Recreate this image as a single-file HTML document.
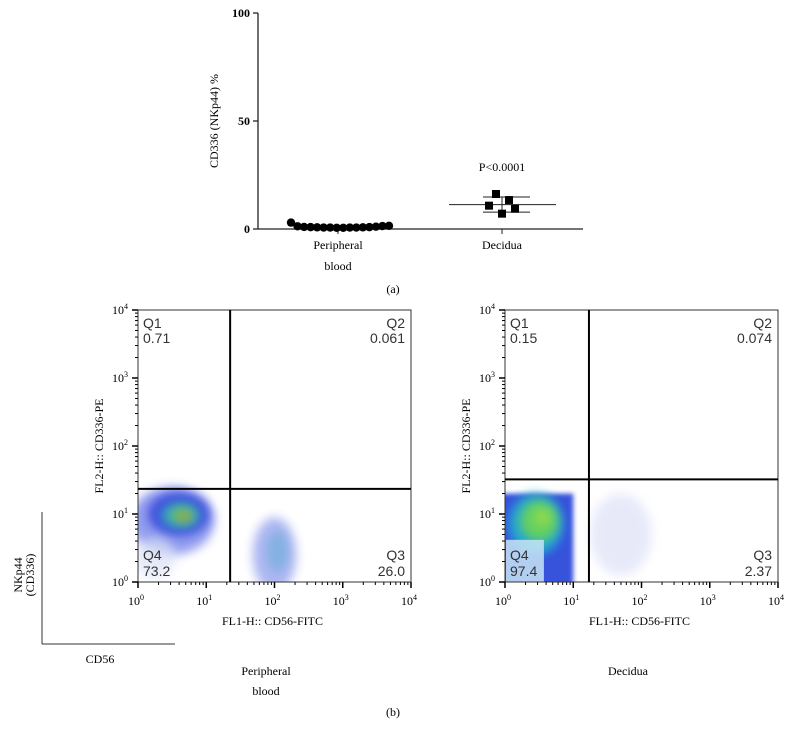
<!DOCTYPE html>
<html><head><meta charset="utf-8"><style>
body{margin:0;background:#fff;width:790px;height:739px;overflow:hidden}
svg text{font-family:"Liberation Serif",serif}
.q{font-family:"Liberation Sans",sans-serif;font-size:14px;fill:#333}
</style></head><body>
<svg id="fig" width="790" height="739" xmlns="http://www.w3.org/2000/svg">
<defs>
<filter id="blur" x="-50%" y="-50%" width="200%" height="200%"><feGaussianBlur stdDeviation="5"/></filter>
<filter id="blur2" x="-50%" y="-50%" width="200%" height="200%"><feGaussianBlur stdDeviation="2.5"/></filter>
<clipPath id="c1"><rect x="138" y="310" width="273" height="272"/></clipPath>
<clipPath id="c2"><rect x="505" y="310" width="275" height="272"/></clipPath>
</defs>
<g id="top"></g>
<g id="p1"></g>
<g id="p2"></g>
<g>
<line x1="42" y1="512" x2="42" y2="644" stroke="#333" stroke-width="1"/>
<line x1="42" y1="644" x2="175" y2="644" stroke="#333" stroke-width="1"/>
<text x="100" y="663" font-size="12" text-anchor="middle">CD56</text>
<text transform="translate(22,575) rotate(-90)" font-size="12" text-anchor="middle"><tspan x="0" dy="0">NKp44</tspan><tspan x="0" dy="12">(CD336)</tspan></text>
</g>
<text x="266" y="675" font-size="12" text-anchor="middle">Peripheral</text>
<text x="266" y="695" font-size="12" text-anchor="middle">blood</text>
<text x="628" y="675" font-size="12" text-anchor="middle">Decidua</text>
<text x="393" y="293" font-size="12" text-anchor="middle">(a)</text>
<text x="393" y="716" font-size="12" text-anchor="middle">(b)</text>
</svg>
<script>
const NS="http://www.w3.org/2000/svg";
// ---- top chart data ----
const categories=["Peripheral","Decidua"];
const yTicks=[0,50,100];
const pbValues=[2.5,0.8,0.5,0.4,0.3,0.2,0.2,0.1,0.1,0.2,0.2,0.3,0.4,0.6,0.9,1.0];
const decValues=[10.8,16.2,7.1,13.4,9.4];
const decOffsets=[-13,-6,0,7,13];
const decMean=[11.3];
const decSD=[3.5];
const pValueText=["P<0.0001"];
// ---- flow data ----
const decadeTicks=[0,1,2,3,4];
const flowGates=[{gx:1.35,gy:1.37},{gx:1.23,gy:1.51}];
const quadLabels=[["Q1","0.71","Q2","0.061","Q3","26.0","Q4","73.2"],["Q1","0.15","Q2","0.074","Q3","2.37","Q4","97.4"]];
// blobs: [logx, logy, rxDec, ryDec, color, opacity]
const blobs1=[[0.5,0.9,0.62,0.5,"#3a50e0",0.55],[0.6,1.0,0.45,0.32,"#1a2ad8",0.7],[0.62,0.98,0.3,0.2,"#30b8c0",0.75],[0.65,0.98,0.18,0.12,"#80d040",0.75],[0.68,0.95,0.07,0.06,"#e06a30",0.6],[2.0,0.4,0.32,0.55,"#4a5ee0",0.45],[2.05,0.45,0.15,0.3,"#30a8c8",0.35],[0.25,0.35,0.3,0.3,"#dde2f6",0.7]];
const blobs2=[[0.45,0.85,0.4,0.45,"#20b0d0",0.9],[0.5,0.9,0.28,0.3,"#70d850",0.85],[0.55,0.95,0.12,0.12,"#b0e040",0.6],[1.7,0.7,0.45,0.6,"#8a96e6",0.2]];
const blueRect=[[0,0,1.0,1.3]];
const q4box=[[0,0,0.57,0.62]];

function el(tag,attrs,parent){const e=document.createElementNS(NS,tag);for(const k in attrs)e.setAttribute(k,attrs[k]);parent.appendChild(e);return e;}

// top chart
(function(){
const g=document.getElementById("top");
const X0=258,X1=583,Y0=229,Y100=13;
const y=v=>Y0-(v/100)*(Y0-Y100);
const cx=[338,502];
el("line",{x1:X0,y1:Y100,x2:X0,y2:Y0,stroke:"#222","stroke-width":1.3},g);
el("line",{x1:X0,y1:Y0,x2:X1,y2:Y0,stroke:"#222","stroke-width":1.3},g);
yTicks.forEach(t=>{
 el("line",{x1:X0-5,y1:y(t),x2:X0,y2:y(t),stroke:"#222","stroke-width":1.3},g);
 const tx=el("text",{x:X0-8,y:y(t)+4,"font-size":12,"font-weight":"bold","text-anchor":"end"},g);tx.textContent=t;
 
 
});
categories.forEach((c,i)=>{
 el("line",{x1:cx[i],y1:Y0,x2:cx[i],y2:Y0+5,stroke:"#222"},g);
});
let t=el("text",{x:338,y:249,"font-size":12,"text-anchor":"middle"},g);t.textContent="Peripheral";


t=el("text",{x:338,y:270,"font-size":12,"text-anchor":"middle"},g);t.textContent="blood";


t=el("text",{x:502,y:249,"font-size":12,"text-anchor":"middle"},g);t.textContent="Decidua";


t=el("text",{transform:"translate(218,121) rotate(-90)","font-size":12,"text-anchor":"middle"},g);t.textContent="CD336 (NKp44) %";


t=el("text",{x:502,y:171,"font-size":12,"text-anchor":"middle"},g);t.textContent=pValueText[0];


pbValues.forEach((v,i)=>{
 const px=291+i*(98/(pbValues.length-1));
 const d=el("circle",{cx:px,cy:y(v)-1,r:4.2,fill:"#000"},g);
 
 
});
const m=decMean[0],s=decSD[0];
el("line",{x1:449,y1:y(m),x2:556,y2:y(m),stroke:"#222"},g);
el("line",{x1:483,y1:y(m+s),x2:530,y2:y(m+s),stroke:"#222"},g);
el("line",{x1:483,y1:y(m-s),x2:530,y2:y(m-s),stroke:"#222"},g);
el("line",{x1:502,y1:y(m+s),x2:502,y2:y(m-s),stroke:"#222"},g);
decValues.forEach((v,i)=>{
 const r=el("rect",{x:cx[1]+decOffsets[i]-4,y:y(v)-4,width:8,height:8,fill:"#000"},g);
 
 
});
})();

function flow(id,L,clip,blobs,gi,rects,box){
 const g=document.getElementById(id);
 const T=310,B=582,W=273,dec=W/4;
 const X=v=>L+v*dec, Y=v=>B-v*((B-T)/4);
 const bg=el("g",{"clip-path":"url(#"+clip+")"},g);
 if(rects){rects.forEach(b=>{el("rect",{x:X(b[0])-10,y:Y(b[3]),width:X(b[2])-X(b[0])+10,height:Y(b[1])-Y(b[3])+10,fill:"#2040d8",opacity:0.9,filter:"url(#blur2)"},bg);});}
 blobs.forEach(b=>{
  const e=el("ellipse",{cx:X(b[0]),cy:Y(b[1]),rx:b[2]*dec,ry:b[3]*((B-T)/4),fill:b[4],opacity:b[5],filter:"url(#blur)"},bg);
  
  
 });
 if(box){box.forEach(b=>{el("rect",{x:X(b[0])+1,y:Y(b[3]),width:X(b[2])-X(b[0])-1,height:Y(b[1])-Y(b[3]),fill:"#c8e4f4",opacity:0.85},bg);});}
 el("rect",{x:L,y:T,width:W,height:B-T,fill:"none",stroke:"#333","stroke-width":1},g);
 const gt=flowGates[gi];
 el("line",{x1:X(gt.gx),y1:T,x2:X(gt.gx),y2:B,stroke:"#000","stroke-width":2},g);
 el("line",{x1:L,y1:Y(gt.gy),x2:L+W,y2:Y(gt.gy),stroke:"#000","stroke-width":2},g);
 decadeTicks.forEach(d=>{
  el("line",{x1:X(d),y1:B,x2:X(d),y2:B+6,stroke:"#000","stroke-width":1.5},g);
  el("line",{x1:L-6,y1:Y(d),x2:L,y2:Y(d),stroke:"#000","stroke-width":1.5},g);
  if(d<4)for(let k=2;k<10;k++){const o=Math.log10(k);
   el("line",{x1:X(d+o),y1:B,x2:X(d+o),y2:B+3,stroke:"#000"},g);
   el("line",{x1:L-3,y1:Y(d+o),x2:L,y2:Y(d+o),stroke:"#000"},g);}
  let t=el("text",{x:X(d)-2,y:B+23,"font-size":12,"text-anchor":"middle"},g);
  t.innerHTML="10<tspan dy='-5' font-size='8'>"+d+"</tspan>";
  
  
  t=el("text",{x:L-10,y:Y(d)+4,"font-size":12,"text-anchor":"end"},g);
  t.innerHTML="10<tspan dy='-5' font-size='8'>"+d+"</tspan>";
  
  
 });
 let t=el("text",{x:L+W/2-2,y:B+43,"font-size":12,"text-anchor":"middle"},g);t.textContent="FL1-H:: CD56-FITC";
 
 
 t=el("text",{transform:"translate("+(L-35)+","+((T+B)/2)+") rotate(-90)","font-size":12,"text-anchor":"middle"},g);t.textContent="FL2-H:: CD336-PE";
 
 
 const q=quadLabels[gi];
 const pos=[[L+5,T+18,"start"],[L+5,T+33,"start"],[L+W-6,T+18,"end"],[L+W-6,T+33,"end"],[L+W-6,B-22,"end"],[L+W-6,B-6,"end"],[L+5,B-22,"start"],[L+5,B-6,"start"]];
 q.forEach((s,i)=>{const tx=el("text",{x:pos[i][0],y:pos[i][1],"text-anchor":pos[i][2],class:"q"},g);tx.textContent=s;
  
  });
}
flow("p1",138,"c1",blobs1,0,null,null);
flow("p2",505,"c2",blobs2,1,blueRect,q4box);
</script>
</body></html>
